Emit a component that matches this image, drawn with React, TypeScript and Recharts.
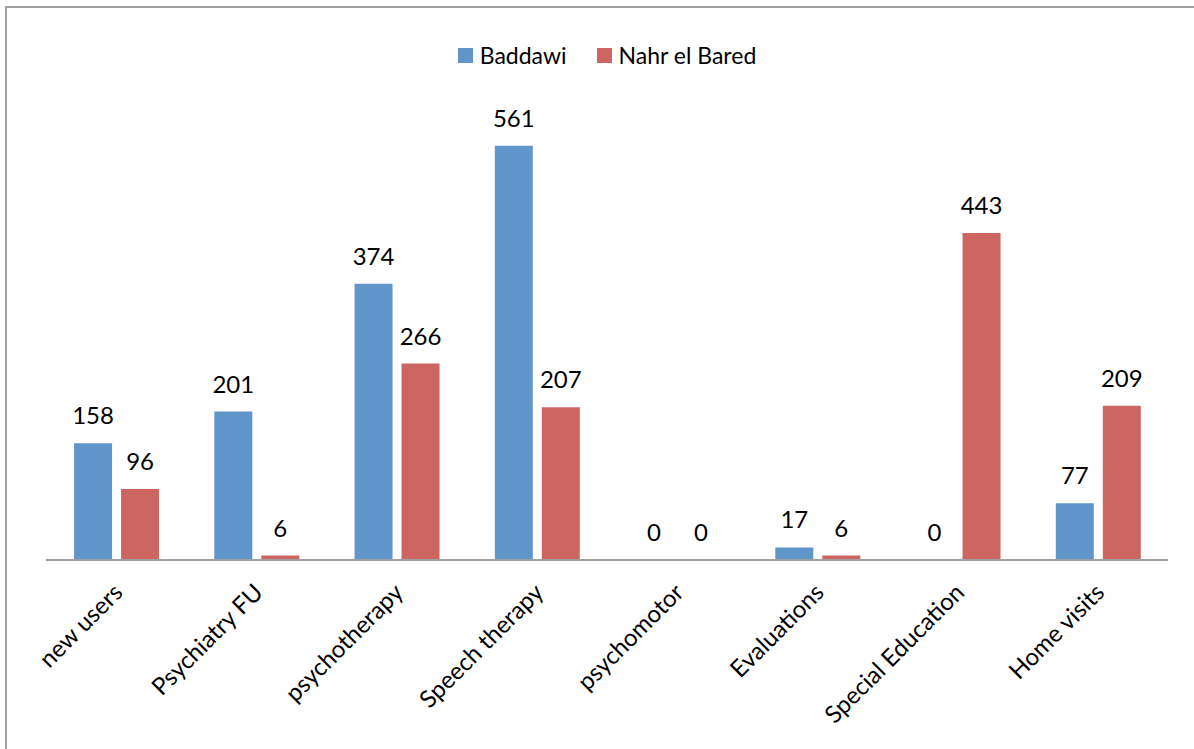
import { Bar, BarChart, LabelList, XAxis, YAxis } from 'recharts'

const categories = [
  'new users',
  'Psychiatry FU',
  'psychotherapy',
  'Speech therapy',
  'psychomotor',
  'Evaluations',
  'Special Education',
  'Home visits',
]
const baddawi = [158, 201, 374, 561, 0, 17, 0, 77]
const nahrElBared = [96, 6, 266, 207, 0, 6, 443, 209]

const BLUE = '#6196CA'
const RED = '#CD6661'
const FRAME = '#a0a0a0'
const FONT = 'Lato, "Open Sans", sans-serif'

const data = categories.map((name, i) => ({
  name,
  baddawi: baddawi[i],
  nahr: nahrElBared[i],
}))

function CategoryTick({ x, y, payload }: any) {
  return (
    <text
      x={0}
      y={0}
      transform={`translate(${x + 8},${y + 26}) rotate(-45)`}
      textAnchor="end"
      fontSize={24}
      fill="#000"
      fontFamily={FONT}
    >
      {payload.value}
    </text>
  )
}

function LegendBox() {
  const items = [
    { label: 'Baddawi', color: BLUE },
    { label: 'Nahr el Bared', color: RED },
  ]
  return (
    <div
      style={{
        position: 'absolute',
        top: 40,
        left: 46,
        width: 1122,
        display: 'flex',
        justifyContent: 'center',
        gap: 30,
        fontSize: 23,
        lineHeight: '30px',
      }}
    >
      {items.map((it) => (
        <div key={it.label} style={{ display: 'flex', alignItems: 'center' }}>
          <span style={{ width: 15, height: 15, background: it.color, marginRight: 7, display: 'inline-block' }} />
          <span style={{ color: '#000' }}>{it.label}</span>
        </div>
      ))}
    </div>
  )
}

export default function App() {
  return (
    <div style={{ position: 'relative', width: 1194, height: 749, margin: '-8px 0 0 -8px', overflow: 'hidden', background: '#fff', fontFamily: FONT }}>
      <BarChart
        width={1194}
        height={749}
        data={data}
        margin={{ top: 117, right: 26, bottom: 159, left: 46 }}
        barCategoryGap="20%"
        barGap={9}
      >
        <XAxis
          dataKey="name"
          height={30}
          axisLine={{ stroke: FRAME, strokeWidth: 2 }}
          tickLine={false}
          interval={0}
          tick={<CategoryTick />}
        />
        <YAxis hide domain={[0, 600]} />
        <Bar dataKey="baddawi" name="Baddawi" fill={BLUE} minPointSize={0.01} isAnimationActive={false}>
          <LabelList dataKey="baddawi" position="top" offset={19} fill="#000" fontSize={24} fontFamily={FONT} />
        </Bar>
        <Bar dataKey="nahr" name="Nahr el Bared" fill={RED} minPointSize={0.01} isAnimationActive={false}>
          <LabelList dataKey="nahr" position="top" offset={19} fill="#000" fontSize={24} fontFamily={FONT} />
        </Bar>
      </BarChart>
      <LegendBox />
      {/* chart frame: only its left and top edges fall inside the page */}
      <div style={{ position: 'fixed', left: 5, top: 6, width: 2, height: 800, background: FRAME, zIndex: 5 }} />
      <div style={{ position: 'fixed', left: 5, top: 6, width: 1300, height: 2, background: FRAME, zIndex: 5 }} />
    </div>
  )
}
